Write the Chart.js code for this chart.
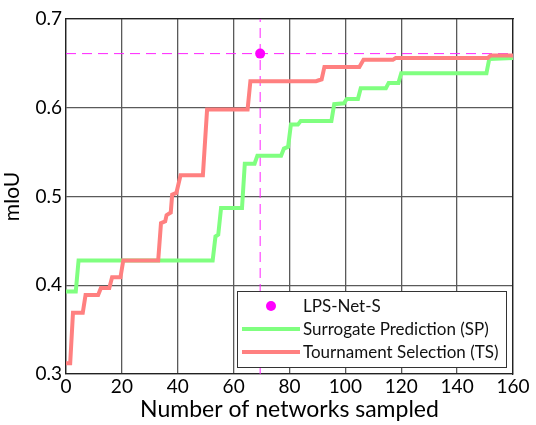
<!DOCTYPE html>
<html>
<head>
<meta charset="utf-8">
<script src="https://cdn.jsdelivr.net/npm/chart.js@4"></script>
<style>
  body { margin: 0; background: #fff; }
  #wrap { width: 536px; height: 425px; }
</style>
</head>
<body>
<div id="wrap"><canvas id="miouChart" width="536" height="425"></canvas></div>
<script>
// Tournament Selection (TS) corner points
const tsX = [0, 1.5, 2.5, 6, 7, 11.5, 12.5, 15.5, 16.5, 19.5, 20.5, 33, 34, 35.5, 36, 37.5, 38, 39.5, 41, 49, 50.5, 65, 66, 89.5, 90.5, 91.5, 92.5, 105, 106.5, 117, 118, 151, 152, 160];
const tsY = [0.312, 0.312, 0.369, 0.369, 0.389, 0.389, 0.397, 0.397, 0.409, 0.409, 0.428, 0.428, 0.470, 0.472, 0.479, 0.482, 0.502, 0.504, 0.524, 0.524, 0.598, 0.598, 0.630, 0.630, 0.631, 0.632, 0.646, 0.646, 0.654, 0.654, 0.656, 0.656, 0.659, 0.659];

// Surrogate Prediction (SP) corner points
const spX = [0, 3.5, 4.5, 52.5, 53.5, 54.5, 55.5, 63, 64, 67.5, 68.5, 77, 78, 79.5, 80.5, 83, 84, 95, 96, 99.5, 100.5, 104.5, 105.5, 114.5, 115.5, 119, 120, 150.5, 151.5, 160];
const spY = [0.393, 0.393, 0.428, 0.428, 0.455, 0.457, 0.487, 0.487, 0.537, 0.537, 0.546, 0.546, 0.554, 0.556, 0.581, 0.581, 0.585, 0.585, 0.604, 0.605, 0.610, 0.610, 0.622, 0.622, 0.628, 0.628, 0.639, 0.639, 0.655, 0.656];

// LPS-Net-S point
const lpsX = 69.5;
const lpsY = 0.661;

const xMin = 0, xMax = 160;
const yMin = 0.3, yMax = 0.7;

const toPts = (xs, ys) => xs.map((x, i) => ({ x: x, y: ys[i] }));
const font = "Lato, 'Open Sans', sans-serif";

// legend box drawn inside the plot, like the matlab one
const boxLegend = {
    id: 'boxLegend',
    afterDraw(chart) {
        const ctx = chart.ctx;
        const items = chart.data.datasets.filter(d => d.inLegend);
        const left = 237, top = 291, w = 269, h = 76;
        ctx.save();
        ctx.fillStyle = '#fff';
        ctx.fillRect(left, top, w, h);
        ctx.strokeStyle = '#333';
        ctx.lineWidth = 1;
        ctx.strokeRect(left + 0.5, top + 0.5, w, h);
        ctx.font = '17px ' + font;
        ctx.textBaseline = 'middle';
        items.forEach((d, i) => {
            const y = top + 15 + i * 23;
            if (d.showLine === false) {
                ctx.fillStyle = d.backgroundColor;
                ctx.beginPath();
                ctx.arc(left + 34, y, 5, 0, Math.PI * 2);
                ctx.fill();
            } else {
                ctx.strokeStyle = d.borderColor;
                ctx.lineWidth = d.borderWidth;
                ctx.beginPath();
                ctx.moveTo(left + 5, y);
                ctx.lineTo(left + 63, y);
                ctx.stroke();
            }
            ctx.fillStyle = '#111';
            ctx.fillText(d.label, left + 66, y + 1);
        });
        ctx.restore();
    }
};

new Chart(document.getElementById('miouChart'), {
    type: 'line',
    data: {
        datasets: [
            {
                label: 'LPS-Net-S',
                data: [{ x: lpsX, y: lpsY }],
                showLine: false,
                pointRadius: 5,
                backgroundColor: '#ff00ff',
                borderColor: '#ff00ff',
                pointBorderWidth: 0,
                inLegend: true,
                order: 0
            },
            {
                label: 'Surrogate Prediction (SP)',
                data: toPts(spX, spY),
                borderColor: '#80ff80',
                borderWidth: 4,
                pointRadius: 0,
                inLegend: true,
                order: 2
            },
            {
                label: 'Tournament Selection (TS)',
                data: toPts(tsX, tsY),
                borderColor: '#ff8080',
                borderWidth: 4,
                pointRadius: 0,
                inLegend: true,
                order: 1
            },
            {
                label: 'hline',
                data: [{ x: xMin, y: lpsY }, { x: xMax, y: lpsY }],
                borderColor: '#ff22ff',
                borderWidth: 1,
                borderDash: [10, 6],
                pointRadius: 0,
                order: 3
            },
            {
                label: 'vline',
                data: [{ x: lpsX, y: yMin }, { x: lpsX, y: yMax }],
                borderColor: '#ff22ff',
                borderWidth: 1,
                borderDash: [10, 6],
                pointRadius: 0,
                order: 3
            }
        ]
    },
    options: {
        responsive: false,
        animation: false,
        layout: { padding: { top: 19, right: 23, left: 0, bottom: 0 } },
        plugins: {
            legend: { display: false },
            tooltip: { enabled: false }
        },
        scales: {
            x: {
                type: 'linear',
                min: xMin,
                max: xMax,
                ticks: { stepSize: 20, color: '#000', font: { size: 19, family: font }, padding: 1, maxRotation: 0 },
                grid: { color: '#5a5a5a', lineWidth: 1.3, drawTicks: false },
                border: { color: '#222', width: 1.3 },
                title: { display: true, text: 'Number of networks sampled', color: '#000', font: { size: 23, family: font }, padding: { top: 0, bottom: 2 } },
                afterFit(s) { s.height = 51; }
            },
            y: {
                min: yMin,
                max: yMax,
                ticks: { stepSize: 0.1, color: '#000', font: { size: 19, family: font }, padding: 4, callback: v => v.toFixed(1) },
                grid: { color: '#5a5a5a', lineWidth: 1.3, drawTicks: false },
                border: { color: '#222', width: 1.3 },
                title: { display: true, text: 'mIoU', color: '#000', font: { size: 21, family: font }, padding: { top: 0, bottom: 3 } },
                afterFit(s) { s.width = 66; }
            },
            x2: {
                type: 'linear', position: 'top', min: xMin, max: xMax,
                ticks: { display: false, stepSize: 20 }, grid: { display: false }, border: { color: '#222', width: 1.3 },
                afterFit(s) { s.height = 0; }
            },
            y2: {
                position: 'right', min: yMin, max: yMax,
                ticks: { display: false }, grid: { display: false }, border: { color: '#222', width: 1.3 },
                afterFit(s) { s.width = 0; }
            }
        }
    },
    plugins: [boxLegend]
});
</script>
</body>
</html>
